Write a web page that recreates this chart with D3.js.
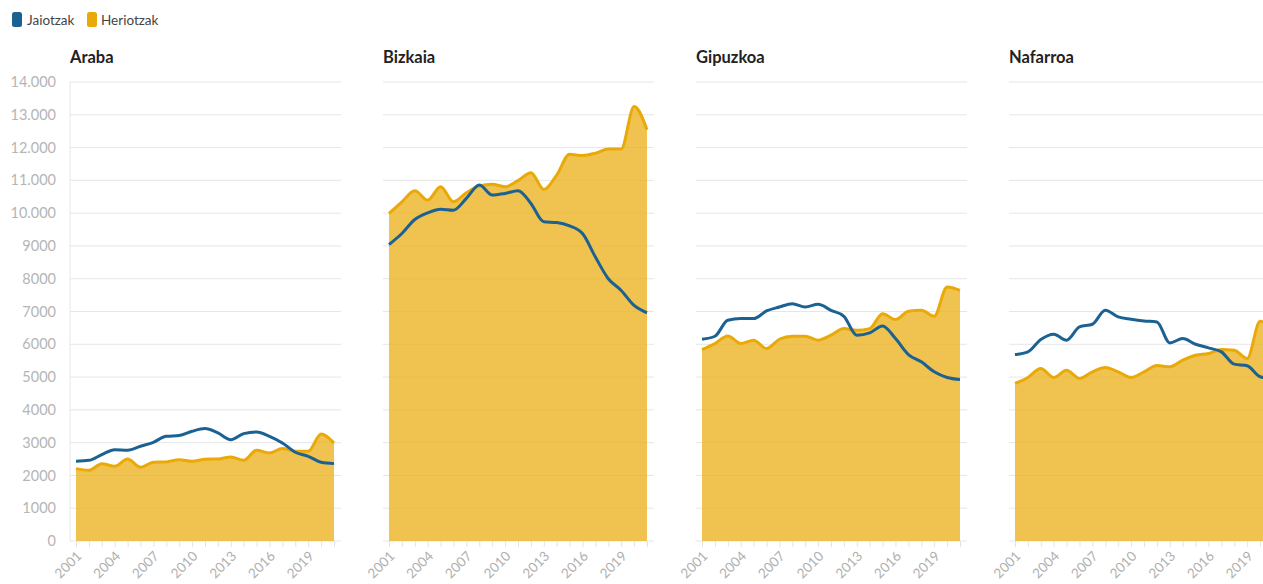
<!DOCTYPE html>
<html><head><meta charset="utf-8">
<script src="https://cdn.jsdelivr.net/npm/d3@7"></script>
<style>
html,body{margin:0;padding:0;background:#fff;overflow:hidden;}
svg{display:block;font-family:Lato,"Noto Sans",sans-serif;}
</style></head>
<body><svg id="c" width="1263" height="584"></svg>
<script>
const years = d3.range(2001, 2022);
const regions = ["Araba", "Bizkaia", "Gipuzkoa", "Nafarroa"];
const seriesNames = ["Jaiotzak", "Heriotzak"];
const yTicks = [0,1000,2000,3000,4000,5000,6000,7000,8000,9000,10000,11000,12000,13000,14000];
const xTickLabels = [2001,2004,2007,2010,2013,2016,2019];

const arabaBirths = [2430,2460,2635,2787,2767,2889,3011,3194,3215,3347,3428,3296,3092,3276,3327,3194,2991,2706,2584,2401,2360];
const arabaDeaths = [2207,2157,2360,2279,2503,2248,2401,2411,2482,2431,2492,2503,2564,2462,2767,2686,2818,2737,2737,3266,2991];
const bizkaiaBirths = [9041,9378,9806,10010,10122,10092,10449,10857,10551,10602,10684,10296,9735,9714,9612,9378,8663,8000,7643,7184,6959];
const bizkaiaDeaths = [9990,10347,10684,10398,10806,10347,10622,10827,10878,10806,10990,11235,10724,11163,11796,11755,11827,11959,11959,13255,12541];
const gipuzkoaBirths = [6154,6245,6732,6783,6783,7016,7138,7239,7138,7219,7036,6854,6276,6347,6560,6174,5688,5464,5160,4988,4927];
const gipuzkoaDeaths = [5840,6022,6256,6022,6124,5870,6154,6245,6245,6124,6276,6479,6428,6479,6935,6753,7006,7036,6854,7746,7645];
const nafarroaBirths = [5688,5769,6144,6306,6124,6529,6611,7036,6834,6763,6712,6682,6042,6174,6002,5890,5769,5394,5343,5010,4950];
const nafarroaDeaths = [4805,4988,5262,4988,5211,4959,5160,5292,5160,4988,5160,5353,5312,5515,5667,5718,5840,5820,5566,6700,6550];

const births = [arabaBirths, bizkaiaBirths, gipuzkoaBirths, nafarroaBirths];
const deaths = [arabaDeaths, bizkaiaDeaths, gipuzkoaDeaths, nafarroaDeaths];

const blue = "#1b6192", yellowLine = "#e9aa08", yellowFill = "#ecb324";
const svg = d3.select("#c");

// legend
const leg = svg.append("g");
[[seriesNames[0], blue, 12, 27], [seriesNames[1], yellowLine, 87, 101]].forEach(([name, col, sx, tx]) => {
  leg.append("rect").attr("x", sx).attr("y", 12).attr("width", 10).attr("height", 15).attr("rx", 2.5).attr("fill", col);
  leg.append("text").attr("x", tx).attr("y", 24.5).attr("font-size", 13.5).attr("fill", "#444").text(name);
});

const y = d3.scaleLinear().domain([0, 14000]).range([541, 82]);
const fmt = v => v >= 10000 ? d3.format(",")(v).replace(/,/g, ".") : String(v);

regions.forEach((name, k) => {
  const x0 = 76 + k * 313;
  const x = d3.scaleLinear().domain([2001, 2021]).range([x0, x0 + 258]);
  const g = svg.append("g");

  g.append("text").attr("x", x0 - 6).attr("y", 63).attr("font-size", 16.5).attr("font-weight", 700).attr("fill", "#222").text(name);

  // gridlines
  g.append("g").selectAll("line").data(yTicks).join("line")
    .attr("x1", x0 - 6).attr("x2", x0 + 265)
    .attr("y1", d => y(d)).attr("y2", d => y(d))
    .attr("stroke", "#e6e6e6").attr("stroke-width", 1);

  if (k === 0) {
    g.append("line").attr("x1", x0 - 6).attr("x2", x0 - 6).attr("y1", y(14000)).attr("y2", y(0))
      .attr("stroke", "#e6e6e6");
    const ya = d3.axisLeft(y).tickValues(yTicks).tickFormat(fmt).tickSize(0).tickPadding(0);
    const ag = g.append("g").attr("transform", `translate(${x0 - 20},0)`).call(ya);
    ag.select(".domain").remove();
    ag.selectAll("text").attr("font-size", 14.5).attr("fill", "#b5b5b5").attr("font-family", "Lato,sans-serif");
  }

  // x axis ticks
  const xa = d3.axisBottom(x).tickValues(years).tickSize(6).tickFormat(d => xTickLabels.includes(d) ? d : "");
  const xg = g.append("g").attr("transform", `translate(0,${y(0)})`).call(xa);
  xg.select(".domain").remove();
  xg.selectAll("line").attr("stroke", "#e3e3e3");
  xg.selectAll("text").attr("font-size", 13.5).attr("fill", "#b0b0b0").attr("font-family", "Lato,sans-serif")
    .attr("text-anchor", "end").attr("dy", null).attr("y", 0)
    .attr("transform", "translate(6,16) rotate(-45)");

  const curve = d3.curveMonotoneX;
  const dD = years.map((yr, i) => [yr, deaths[k][i]]);
  const dB = years.map((yr, i) => [yr, births[k][i]]);

  g.append("path").datum(dD)
    .attr("d", d3.area().x(d => x(d[0])).y0(y(0)).y1(d => y(d[1])).curve(curve))
    .attr("fill", yellowFill).attr("fill-opacity", 0.8);
  g.append("path").datum(dD)
    .attr("d", d3.line().x(d => x(d[0])).y(d => y(d[1])).curve(curve))
    .attr("fill", "none").attr("stroke", yellowLine).attr("stroke-width", 3);
  g.append("path").datum(dB)
    .attr("d", d3.line().x(d => x(d[0])).y(d => y(d[1])).curve(curve))
    .attr("fill", "none").attr("stroke", blue).attr("stroke-width", 3);
});
</script></body></html>
